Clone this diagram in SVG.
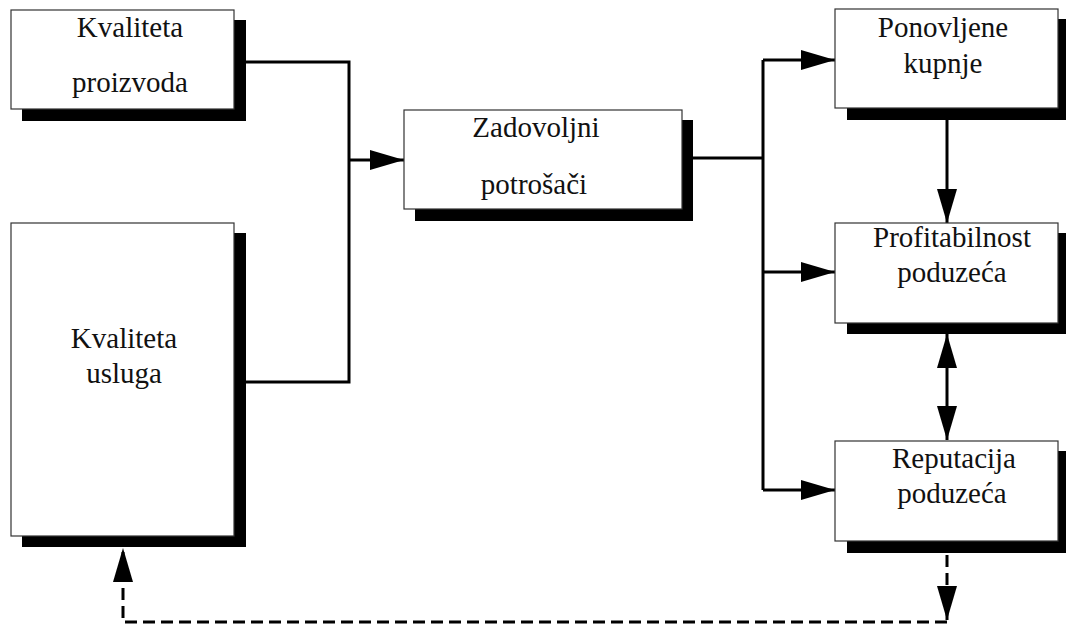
<svg xmlns="http://www.w3.org/2000/svg" width="1066" height="624" viewBox="0 0 1066 624">
<style>
.box{fill:#fff;stroke:#333;stroke-width:1.2}
.sh{fill:#000}
.t{font-family:"Liberation Serif","Times New Roman",serif;font-size:29px;fill:#111;text-anchor:middle}
.c{fill:none;stroke:#000;stroke-width:3}
.d{fill:none;stroke:#000;stroke-width:3;stroke-dasharray:12 6}
</style>
<defs>
<marker id="ah" markerUnits="userSpaceOnUse" markerWidth="34" markerHeight="20" refX="34" refY="10" orient="auto-start-reverse">
<path d="M0,0 L34,10 L0,20 z" fill="#000"/>
</marker>
</defs>
<rect width="1066" height="624" fill="#fff"/>
<g id="connectors">
<path class="c" d="M246,62 H349 V382 H246"/>
<path class="c" d="M349,160 H404" marker-end="url(#ah)"/>
<path class="c" d="M693,158 H763"/>
<path class="c" d="M763,60 V490"/>
<path class="c" d="M763,60 H835" marker-end="url(#ah)"/>
<path class="c" d="M763,272 H835" marker-end="url(#ah)"/>
<path class="c" d="M763,490 H835" marker-end="url(#ah)"/>
<path class="c" d="M947,120 V223" marker-end="url(#ah)"/>
<path class="c" d="M947,334 V440" marker-start="url(#ah)" marker-end="url(#ah)"/>
<path class="d" d="M947,555 V620" marker-end="url(#ah)"/>
<path class="d" d="M947,622 H123 V548" marker-end="url(#ah)"/>
</g>
<g id="n1">
<rect class="sh" x="22" y="20" width="224" height="101"/>
<rect class="box" x="11" y="10" width="223" height="99"/>
<text class="t" x="130" y="37">Kvaliteta</text>
<text class="t" x="130" y="92">proizvoda</text>
</g>
<g id="n2">
<rect class="sh" x="22" y="233" width="224" height="314"/>
<rect class="box" x="11" y="223" width="223" height="313"/>
<text class="t" x="124" y="348">Kvaliteta</text>
<text class="t" x="124" y="383">usluga</text>
</g>
<g id="n3">
<rect class="sh" x="415" y="120" width="278" height="101"/>
<rect class="box" x="404" y="110" width="278" height="99"/>
<text class="t" x="536" y="137">Zadovoljni</text>
<text class="t" x="534" y="194">potrošači</text>
</g>
<g id="n4">
<rect class="sh" x="847" y="19" width="230" height="101"/>
<rect class="box" x="835" y="9" width="223" height="99"/>
<text class="t" x="943" y="37">Ponovljene</text>
<text class="t" x="943" y="73">kupnje</text>
</g>
<g id="n5">
<rect class="sh" x="847" y="233" width="230" height="101"/>
<rect class="box" x="835" y="223" width="223" height="100"/>
<text class="t" x="952" y="247">Profitabilnost</text>
<text class="t" x="952" y="282">poduzeća</text>
</g>
<g id="n6">
<rect class="sh" x="847" y="451" width="230" height="102"/>
<rect class="box" x="835" y="441" width="223" height="100"/>
<text class="t" x="954" y="468">Reputacija</text>
<text class="t" x="952" y="503">poduzeća</text>
</g>
</svg>
